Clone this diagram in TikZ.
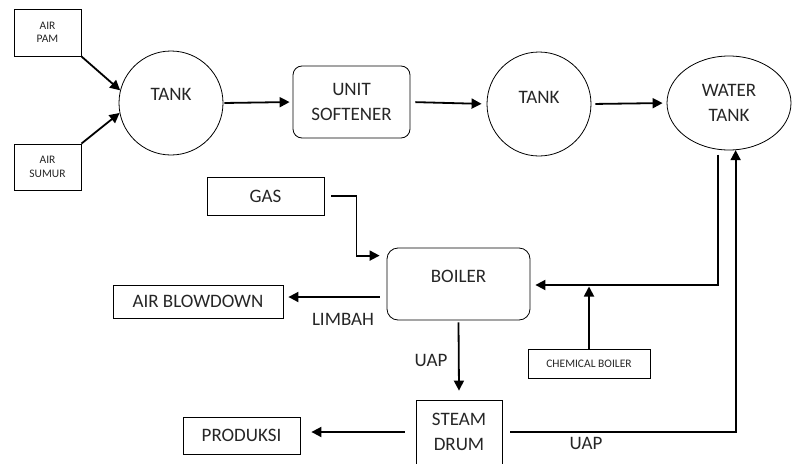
\documentclass[tikz,border=0pt]{standalone}
\usepackage{fontspec}
\setmainfont{Carlito}
\usetikzlibrary{arrows.meta,shapes.geometric,calc}
\begin{document}
\begin{tikzpicture}[x=1pt,y=-1pt,
  box/.style={draw, line width=0.8pt, inner sep=0pt, align=center, text=black!85},
  big/.style={font=\fontsize{19}{25.5}\selectfont},
  small/.style={font=\fontsize{11.5}{13.5}\selectfont},
  arr/.style={line width=1.8pt, -{Triangle[length=10pt,width=10pt]}},
  lbl/.style={font=\fontsize{19}{25.5}\selectfont, text=black!85, inner sep=0pt}
]
\useasboundingbox (0,0) rectangle (792,463);

% top row
\node[box, small, minimum width=67pt, minimum height=47pt] (pam) at (47.5,32.5) {AIR\\PAM};
\node[box, small, minimum width=67pt, minimum height=46pt] (sumur) at (47.5,167) {AIR\\SUMUR};
\node[box, circle, minimum size=104pt, label={[lbl, yshift=9pt]center:TANK}] (tank1) at (171,103) {};
\node[box, big, rounded corners=9pt, minimum width=117pt, minimum height=72pt] (soft) at (351.5,102) {UNIT\\SOFTENER};
\node[box, circle, minimum size=104pt, label={[lbl, yshift=7pt]center:TANK}] (tank2) at (539,104) {};
\node[box, big, ellipse, minimum width=124pt, minimum height=94pt] (wt) at (729,103) {WATER\\TANK};

% middle
\node[box, big, minimum width=117pt, minimum height=38pt] (gas) at (265.5,196) {GAS};
\node[box, rounded corners=11pt, minimum width=143pt, minimum height=72pt, label={[lbl, yshift=8pt]center:BOILER}] (boiler) at (458.5,284) {};
\node[box, big, minimum width=170pt, minimum height=33pt] (blow) at (198,301.5) {AIR BLOWDOWN};
\node[box, small, minimum width=122pt, minimum height=29pt] (chem) at (589,363.5) {CHEMICAL BOILER};

% bottom
\node[box, big, minimum width=86pt, minimum height=64pt] (drum) at (459,432) {STEAM\\DRUM};
\node[box, big, minimum width=117pt, minimum height=37pt] (prod) at (241.5,435.5) {PRODUKSI};

% connectors
\draw[arr] (pam.south east) -- (tank1.166);
\draw[arr] (sumur.north east) -- (tank1.191);
\draw[arr, shorten <=1pt, shorten >=3pt] (tank1.east) -- (soft.west);
\draw[arr, shorten <=5pt, shorten >=5pt] (soft.east) -- (tank2.west);
\draw[arr, shorten <=4pt, shorten >=4pt] (tank2.east) -- (wt.west);

\draw[arr] ([xshift=7pt]gas.east) -- ++(25,0) |- ([xshift=-7pt,yshift=-8pt]boiler.north west);
\draw[arr] ([xshift=-7pt,yshift=-13pt]boiler.west) coordinate (b1) -- ([xshift=5pt]blow.east |- b1);
\node[lbl] (limbah) at (343,319) {LIMBAH};

\draw[arr] ([yshift=-2pt]boiler.south) -- ([yshift=9pt]drum.north);
\node[lbl] (uap1) at (431,360) {UAP};

\draw[arr] ([yshift=-5pt]wt.257) |- ([xshift=5pt,yshift=-1pt]boiler.east);
\draw[arr] (chem.north) -- ([yshift=-2.5pt]chem.north |- boiler.east);

\draw[arr] ([xshift=-11pt]drum.west) -- ([xshift=11pt]prod.east |- drum.west);
\draw[arr] ([xshift=8pt]drum.east) -| (wt.278);
\node[lbl] (uap2) at (586,443) {UAP};
\end{tikzpicture}
\end{document}
